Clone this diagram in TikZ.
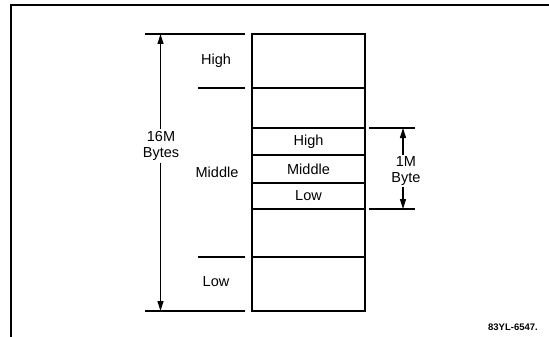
\documentclass[tikz,border=0pt]{standalone}
\usepackage{fontspec}
\setmainfont{Liberation Sans}
\usetikzlibrary{arrows.meta}
\begin{document}
\begin{tikzpicture}[x=1pt,y=-1pt,
  lbl/.style={font=\fontsize{14.5}{15.5}\selectfont, inner sep=0pt, align=center},
  tick/.style={line width=1.6pt},
  divider/.style={line width=1.3pt},
  dimarrow/.style={line width=1.3pt, -{Triangle[length=10pt,width=6pt]}},
  frame/.style={line width=1.4pt}]
\useasboundingbox (0,0) rectangle (549,337);
% frame
\coordinate (fbl) at (11,337);
\coordinate (ftl) at (11,5);
\coordinate (ftr) at (549,5);
\draw[frame] (fbl) -- (ftl) -- (ftr);
% memory box
\node[draw, line width=2.2pt, minimum width=113pt, minimum height=277pt, inner sep=0pt, outer sep=0pt, anchor=north west] (mem) at (252,34) {};
\foreach \yy/\nm in {88/d1,128/d2,155/d3,183/d4,209/d5,257/d6}{
  \coordinate (\nm l) at (252,\yy);
  \coordinate (\nm r) at (365,\yy);
  \draw[divider] (\nm l) -- (\nm r);
}
% left ticks
\coordinate (tt1) at (145,34);  \coordinate (tt2) at (245,34);
\coordinate (tb1) at (145,311); \coordinate (tb2) at (245,311);
\coordinate (tm1) at (198,88);  \coordinate (tm2) at (245,88);
\coordinate (tn1) at (198,257); \coordinate (tn2) at (245,257);
\draw[tick] (tt1) -- (tt2);
\draw[tick] (tb1) -- (tb2);
\draw[tick] (tm1) -- (tm2);
\draw[tick] (tn1) -- (tn2);
% 16M arrow
\node[lbl] (l16) at (161,146) {16M\\Bytes};
\coordinate (a16t) at (160.5,34);
\coordinate (a16b) at (160.5,311);
\draw[dimarrow] (l16.north -| a16t) ++(0,-2) -- (a16t);
\draw[dimarrow] (l16.south -| a16b) ++(0,2) -- (a16b);
% left labels
\node[lbl] (lhigh) at (216,61) {High};
\node[lbl] (lmid) at (217,172) {Middle};
\node[lbl] (llow) at (216,282) {Low};
% box labels
\node[lbl] (bhigh) at (308.5,142) {High};
\node[lbl] (bmid) at (308.5,169) {Middle};
\node[lbl] (blow) at (308.5,195.5) {Low};
% right ticks
\coordinate (rt1) at (369,128); \coordinate (rt2) at (415,128);
\coordinate (rb1) at (369,209); \coordinate (rb2) at (415,209);
\draw[tick] (rt1) -- (rt2);
\draw[tick] (rb1) -- (rb2);
% 1M arrow
\node[lbl] (l1m) at (406,171) {1M\\Byte};
\coordinate (a1t) at (403,128);
\coordinate (a1b) at (403,209);
\draw[dimarrow] (l1m.north -| a1t) ++(0,-2) -- (a1t);
\draw[dimarrow] (l1m.south -| a1b) ++(0,2) -- (a1b);
% tag
\node[font=\bfseries\fontsize{9.5}{10}\selectfont, inner sep=0pt] (tag) at (513,327) {83YL-6547.};
\end{tikzpicture}
\end{document}
